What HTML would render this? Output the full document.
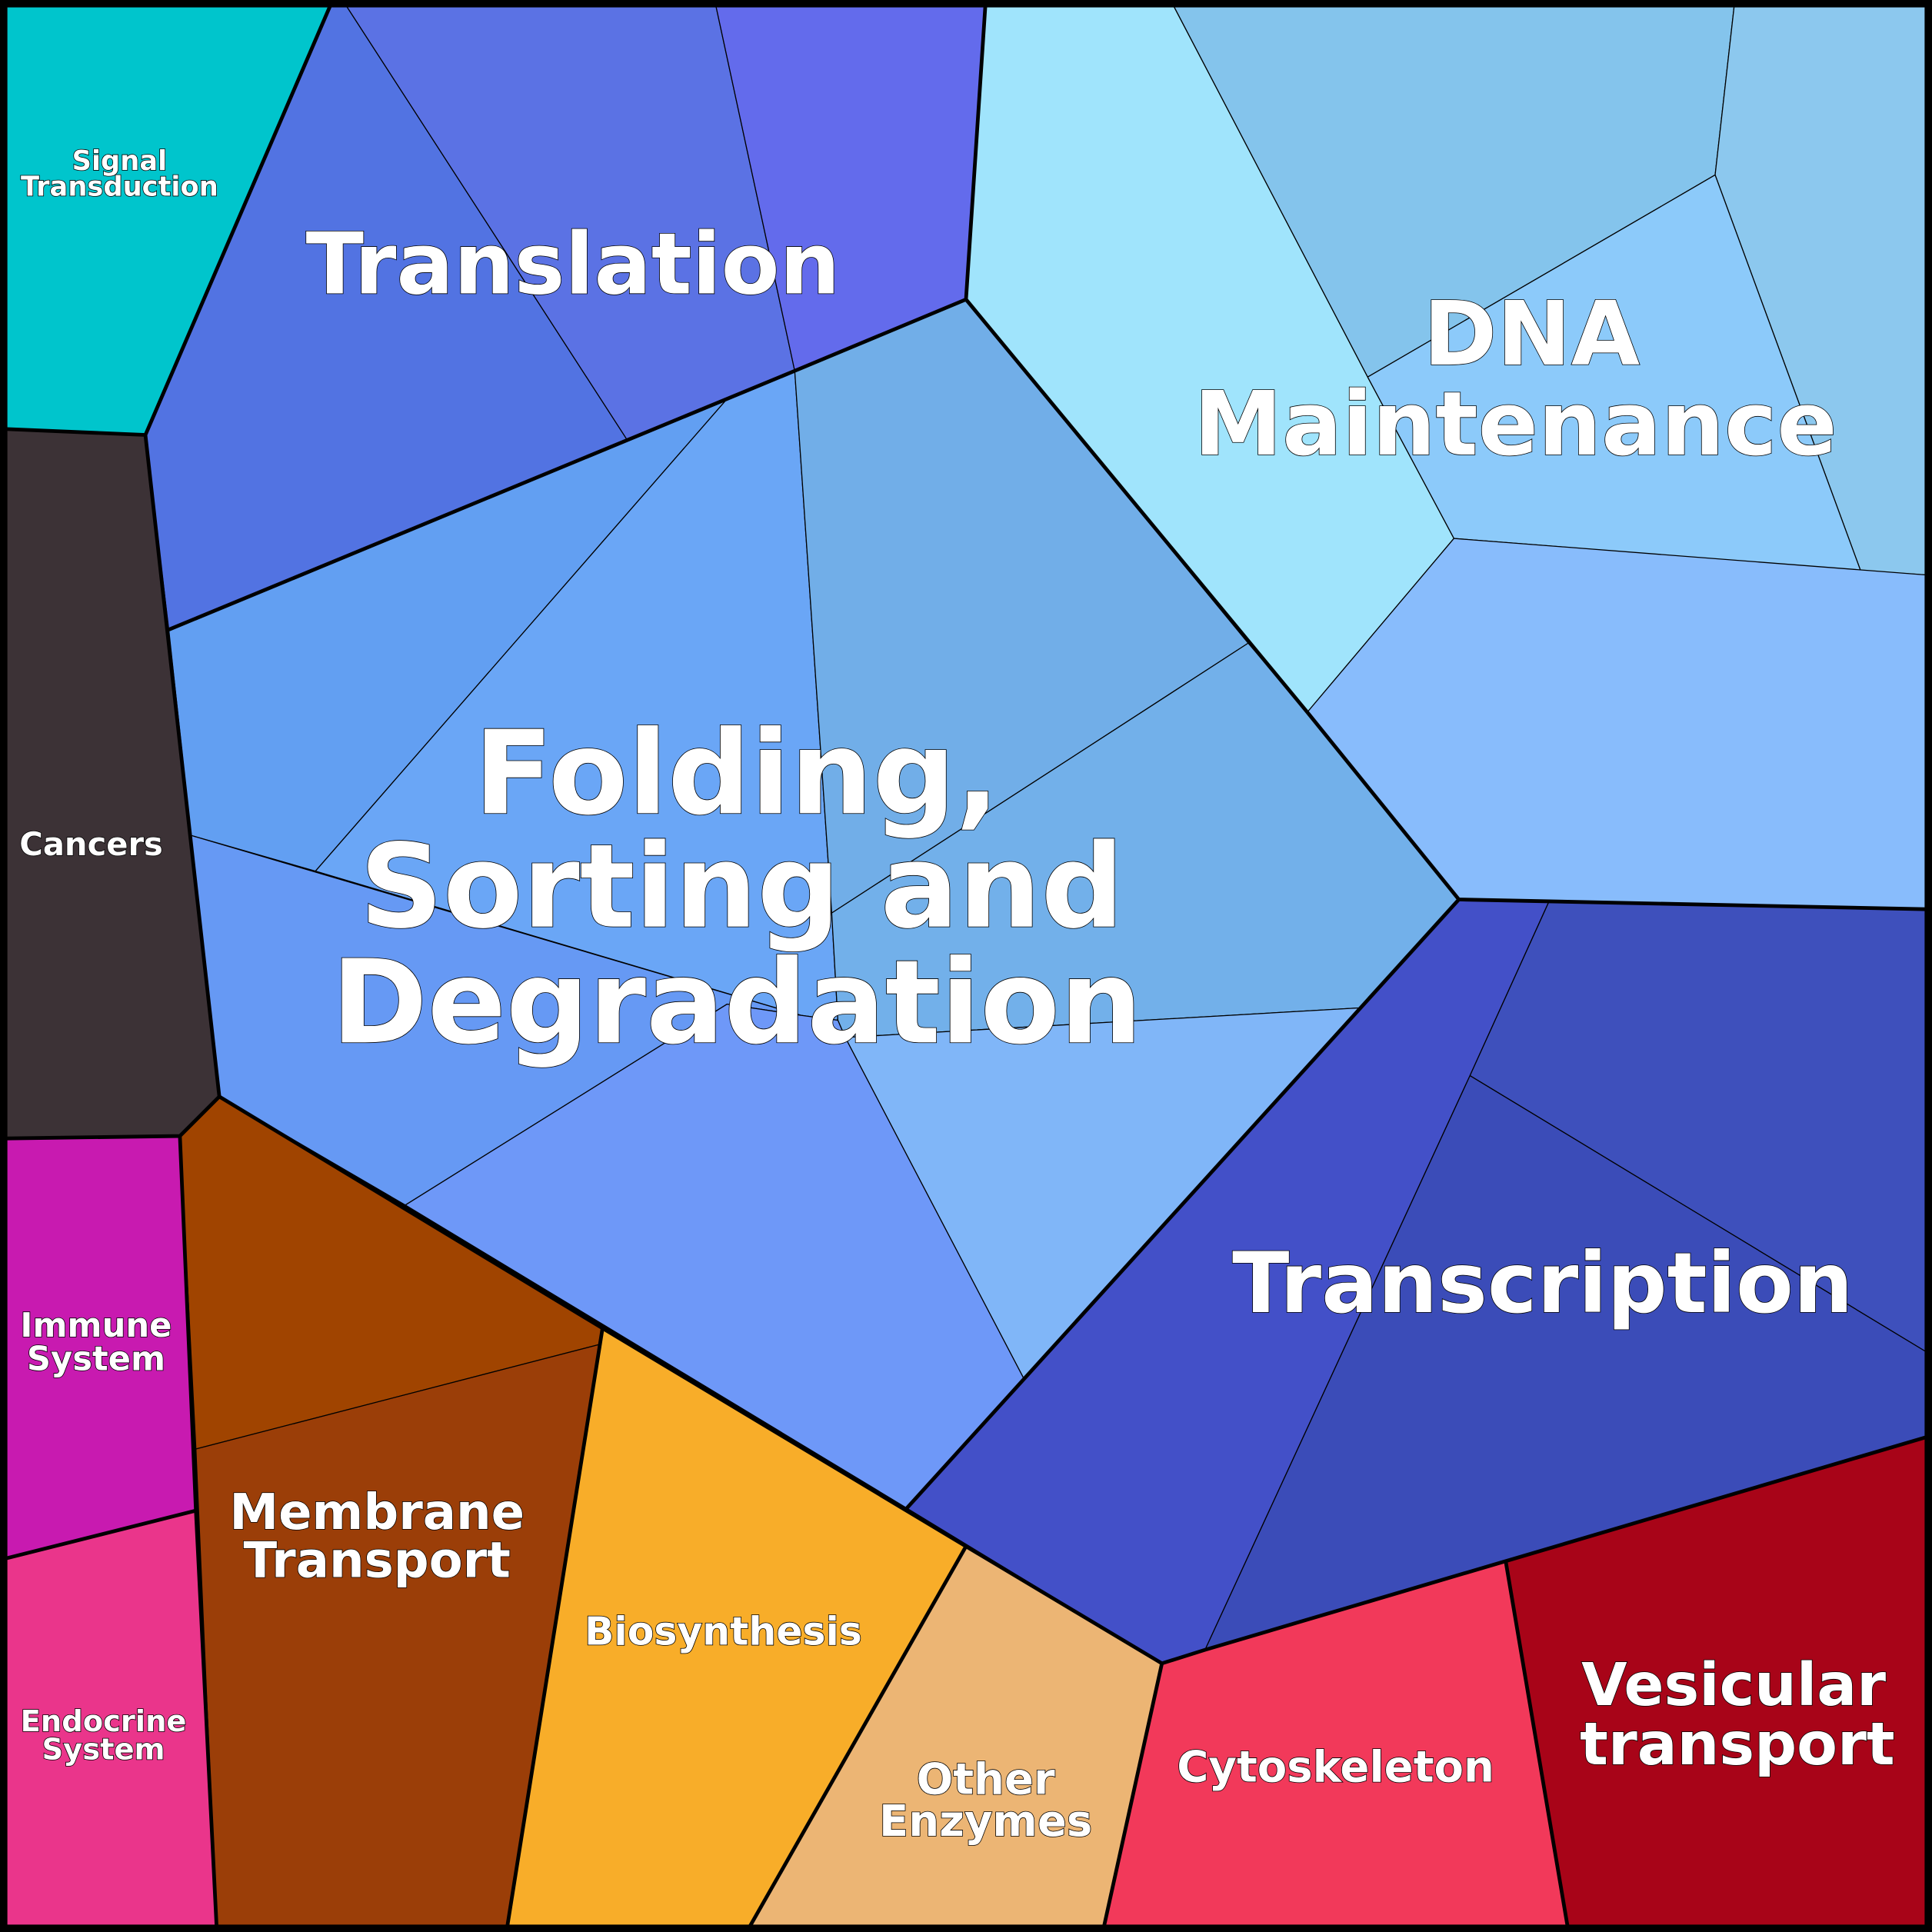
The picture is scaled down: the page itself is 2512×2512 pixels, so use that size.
<!DOCTYPE html>
<html><head><meta charset="utf-8"><style>
html,body{margin:0;padding:0;background:#000}
svg{display:block}
text{font-family:"DejaVu Sans","Liberation Sans",sans-serif;font-weight:bold;fill:#fff;stroke:#000;stroke-width:1;paint-order:stroke;text-anchor:middle}
</style></head><body>
<svg width="2512" height="2512" viewBox="0 0 1568 1568" xmlns="http://www.w3.org/2000/svg">
<g stroke="#000" stroke-width="0.8" stroke-linejoin="round">
<polygon points="0,0 270,0 118,353 0,348" fill="#00C5CC"/>
<polygon points="0,348 118,353 178,890 146,922 0,924" fill="#3C3236"/>
<polygon points="0,924 146,922 159,1226 0,1266" fill="#C81AB0"/>
<polygon points="0,1266 159,1226 176,1568 0,1568" fill="#EA358B"/>
<polygon points="146,922 178,890 489,1078 487,1091 159,1176" fill="#A04400"/>
<polygon points="159,1176 487,1091 411,1568 176,1568" fill="#9B3E08"/>
<polygon points="489,1078 784,1255 606,1568 411,1568" fill="#F8AD29"/>
<polygon points="784,1255 943,1350 895,1568 606,1568" fill="#ECB574"/>
<polygon points="943,1350 978,1339 1222,1267 1273,1568 895,1568" fill="#F2395A"/>
<polygon points="1222,1267 1568,1165 1568,1568 1273,1568" fill="#A80418"/>
<polygon points="1184,730 1257,732 1193,873 978,1339 943,1350 736,1224" fill="#4350C8"/>
<polygon points="1257,732 1568,738 1568,1100 1193,873" fill="#3E50BC"/>
<polygon points="1193,873 1568,1100 1568,1165 1222,1267 978,1339" fill="#3B4CB8"/>
<polygon points="270,0 278,0 509,357 137,511 118,353" fill="#5273E2"/>
<polygon points="278,0 580,0 645,301 509,357" fill="#5B72E4"/>
<polygon points="580,0 800,0 784,243 645,301" fill="#636BEC"/>
<polygon points="137,511 589,325 256,707 155,678" fill="#629FF2"/>
<polygon points="256,707 589,325 645,301 675,741 680,828 650,824" fill="#6AA6F6"/>
<polygon points="645,301 784,243 1013,522 675,741" fill="#71AEE8"/>
<polygon points="675,741 1013,522 1061,578 1184,730 1103,818 686,842 680,828" fill="#72B0EA"/>
<polygon points="686,842 1103,818 831,1119" fill="#80B6F8"/>
<polygon points="155,678 650,824 590,815 329,978 178,890" fill="#6699F4"/>
<polygon points="329,978 590,815 650,824 680,828 686,842 831,1119 736,1224" fill="#6E98F8"/>
<polygon points="800,0 950,0 1110,306 1180,437 1061,578 784,243" fill="#A0E4FC"/>
<polygon points="950,0 1408,0 1392,142 1110,306" fill="#84C4EC"/>
<polygon points="1408,0 1568,0 1568,467 1510,463 1392,142" fill="#8CC8EE"/>
<polygon points="1110,306 1392,142 1510,463 1180,437" fill="#8CCAFA"/>
<polygon points="1180,437 1568,467 1568,738 1184,730 1061,578" fill="#88BCFC"/>
</g>
<g fill="none" stroke="#000" stroke-width="3" stroke-linejoin="round">
<polyline points="270,0 118,353 0,348"/>
<polyline points="118,353 178,890 146,922 0,924"/>
<polyline points="146,922 159,1226 176,1568"/>
<polyline points="178,890 489,1078 784,1255 943,1350 978,1339 1222,1267 1568,1165"/>
<polyline points="489,1078 411,1568"/>
<polyline points="784,1255 606,1568"/>
<polyline points="943,1350 895,1568"/>
<polyline points="1222,1267 1273,1568"/>
<polyline points="137,511 645,301 784,243 800,0"/>
<polyline points="784,243 1061,578 1184,730 736,1224"/>
<polyline points="1184,730 1568,738"/>
<polyline points="0,1266 159,1226"/>
</g>
<rect x="3" y="3" width="1562" height="1562" fill="none" stroke="#000" stroke-width="6"/>
<text x="97" y="138" font-size="22">Signal</text>
<text x="97" y="159" font-size="22">Transduction</text>
<text x="74" y="694" font-size="26">Cancers</text>
<text x="78" y="1085" font-size="27">Immune</text>
<text x="78" y="1112" font-size="27">System</text>
<text x="84" y="1405" font-size="24">Endocrine</text>
<text x="84" y="1428" font-size="24">System</text>
<text x="306" y="1241" font-size="40">Membrane</text>
<text x="306" y="1280" font-size="40">Transport</text>
<text x="587" y="1335" font-size="31.5">Biosynthesis</text>
<text x="800" y="1456" font-size="35">Other</text>
<text x="800" y="1490" font-size="35">Enzymes</text>
<text x="1084" y="1446" font-size="35">Cytoskeleton</text>
<text x="1407" y="1384" font-size="48">Vesicular</text>
<text x="1410" y="1432" font-size="48">transport</text>
<text x="465" y="238" font-size="69">Translation</text>
<text x="1243" y="296" font-size="72">DNA</text>
<text x="1230" y="369" font-size="72">Maintenance</text>
<text x="1252" y="1065" font-size="68">Transcription</text>
<text x="598" y="660" font-size="94">Folding,</text>
<text x="602" y="752" font-size="94">Sorting and</text>
<text x="598" y="846" font-size="94">Degradation</text>
</svg>
</body></html>
